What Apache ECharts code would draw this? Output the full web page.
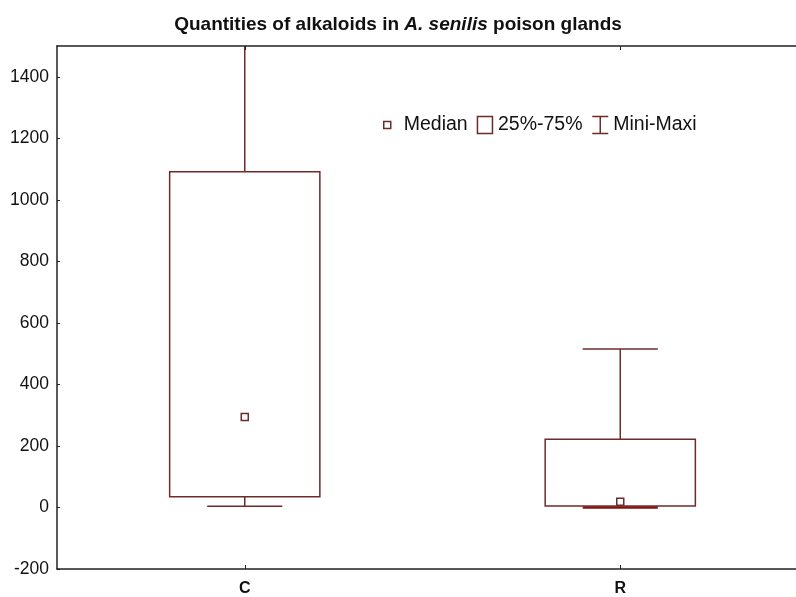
<!DOCTYPE html>
<html>
<head>
<meta charset="utf-8">
<script src="https://cdn.jsdelivr.net/npm/echarts@6/dist/echarts.min.js"></script>
<style>
  html, body { margin: 0; padding: 0; background: #fff; }
  #main { width: 796px; height: 597px; }
</style>
</head>
<body>
<div id="main"></div>
<script>
// values
var categories = ['C', 'R'];
var minVals = [4, 0];
var q1Vals = [35, 5];
var medianVals = [294, 19];
var q3Vals = [1091, 222];
var maxVals = [1560, 515];
var yTicks = { min: -200, max: 1500, interval: 200 };

var boxColor = '#6e2b2b';
var font = '"Liberation Sans", Arial, sans-serif';

var catIdx = categories.map(function (c, i) { return i; });
var rows = categories.map(function (c, i) {
  return [i, minVals[i], q1Vals[i], medianVals[i], q3Vals[i], maxVals[i]];
});

var chart = echarts.init(document.getElementById('main'));

function boxRender(params, api) {
  var i = api.value(0);
  var band = api.size([1, 0])[0];
  var w = band * 0.4;
  var top = api.coord([i, api.value(4)]);
  var bot = api.coord([i, api.value(2)]);
  return {
    type: 'rect',
    shape: { x: top[0] - w / 2, y: top[1], width: w, height: bot[1] - top[1] },
    style: { fill: 'none', stroke: boxColor, lineWidth: 1.5 }
  };
}

function whiskerRender(params, api) {
  var i = api.value(0);
  var band = api.size([1, 0])[0];
  var cw = band * 0.2;
  var pMin = api.coord([i, api.value(1)]);
  var pQ1 = api.coord([i, api.value(2)]);
  var pQ3 = api.coord([i, api.value(4)]);
  var pMax = api.coord([i, api.value(5)]);
  var st = { stroke: boxColor, lineWidth: 1.5 };
  return {
    type: 'group',
    children: [
      { type: 'line', shape: { x1: pQ3[0], y1: pQ3[1], x2: pMax[0], y2: pMax[1] }, style: st },
      { type: 'line', shape: { x1: pQ1[0], y1: pQ1[1], x2: pMin[0], y2: pMin[1] }, style: st },
      { type: 'line', shape: { x1: pMax[0] - cw / 2, y1: pMax[1], x2: pMax[0] + cw / 2, y2: pMax[1] }, style: st },
      { type: 'line', shape: { x1: pMin[0] - cw / 2, y1: pMin[1], x2: pMin[0] + cw / 2, y2: pMin[1] },
        style: { stroke: i === 1 ? '#8a1010' : boxColor, lineWidth: i === 1 ? 2.5 : 1.5 } }
    ]
  };
}

function medianRender(params, api) {
  var p = api.coord([api.value(0), api.value(3)]);
  return {
    type: 'rect',
    shape: { x: p[0] - 3.5, y: p[1] - 3.5, width: 7, height: 7 },
    style: { fill: '#fff', stroke: boxColor, lineWidth: 1.5 }
  };
}

function xAxisDef(pos) {
  return {
    type: 'value',
    position: pos,
    min: -0.5,
    max: 1.468,
    z: 10,
    axisLine: { onZero: false, lineStyle: { color: '#222', width: 1.5 } },
    axisTick: { inside: true, length: 4, customValues: catIdx, lineStyle: { color: '#222' } },
    axisLabel: {
      show: pos === 'bottom',
      customValues: catIdx,
      formatter: function (v) { return categories[Math.round(v)]; },
      fontFamily: font, fontSize: 16, fontWeight: 'bold', color: '#111', margin: 12
    },
    splitLine: { show: false }
  };
}

var option = {
  backgroundColor: '#fff',
  animation: false,
  title: {
    text: '{a|Quantities of alkaloids in }{b|A. senilis}{a| poison glands}',
    left: 'center',
    top: 10,
    textStyle: {
      rich: {
        a: { fontFamily: font, fontSize: 19, fontWeight: 'bold', color: '#111' },
        b: { fontFamily: font, fontSize: 19, fontWeight: 'bold', fontStyle: 'italic', color: '#111' }
      }
    }
  },
  legend: {
    left: 377,
    top: 110,
    itemWidth: 16,
    itemHeight: 17,
    itemGap: 9,
    textStyle: { fontFamily: font, fontSize: 19.5, color: '#111' },
    data: [
      { name: 'Median', icon: 'path://M0,0M16,17M1,5H8V12H1Z',
        itemStyle: { color: 'transparent', borderColor: boxColor, borderWidth: 1.5 } },
      { name: '25%-75%', icon: 'path://M0.5,0H15.5V17H0.5Z',
        itemStyle: { color: 'transparent', borderColor: boxColor, borderWidth: 1.5 } },
      { name: 'Mini-Maxi', icon: 'path://M0,0H16M8,0V17M0,17H16',
        itemStyle: { color: 'transparent', borderColor: boxColor, borderWidth: 1.5 } }
    ]
  },
  grid: { left: 57, top: 46, right: 0, height: 524 },
  xAxis: [xAxisDef('bottom'), xAxisDef('top')],
  yAxis: {
    type: 'value',
    min: yTicks.min,
    max: yTicks.max,
    interval: yTicks.interval,
    z: 10,
    axisLine: { show: true, onZero: false, lineStyle: { color: '#222', width: 1.5 } },
    axisTick: { show: true, inside: true, length: 3, lineStyle: { color: '#222' } },
    axisLabel: {
      fontFamily: font, fontSize: 17.5, color: '#111', margin: 8, showMaxLabel: false,
      formatter: function (v) { return String(v); }
    },
    splitLine: { show: false }
  },
  series: [
    {
      name: 'Mini-Maxi', type: 'custom', clip: true, z: 2,
      renderItem: whiskerRender, encode: { x: 0, y: [1, 5] }, data: rows
    },
    {
      name: '25%-75%', type: 'custom', clip: true, z: 3,
      renderItem: boxRender, encode: { x: 0, y: [2, 4] }, data: rows
    },
    {
      name: 'Median', type: 'custom', clip: true, z: 4,
      renderItem: medianRender, encode: { x: 0, y: 3 }, data: rows
    }
  ]
};

chart.setOption(option);
</script>
</body>
</html>
